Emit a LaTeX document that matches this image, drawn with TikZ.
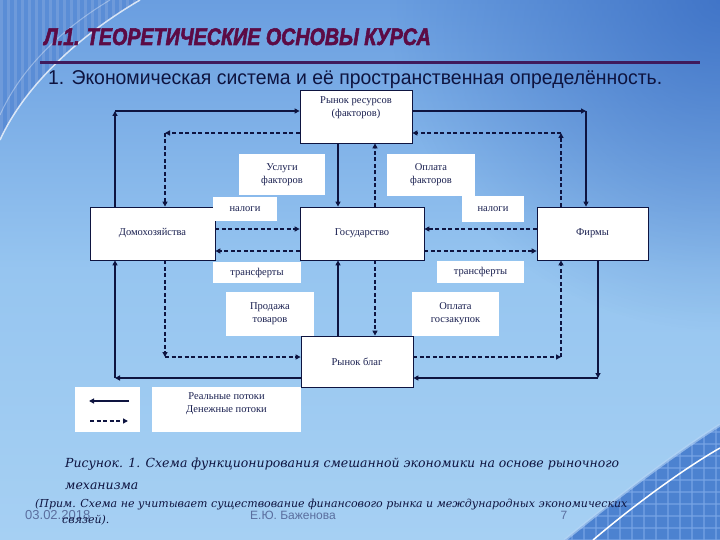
\documentclass[tikz,border=0pt]{standalone}
\usepackage{fontspec}
\usetikzlibrary{arrows.meta,fadings,calc}
\setmainfont{Liberation Serif}
\newfontfamily\titlefont[FakeStretch=0.82, FakeBold=2.2]{Liberation Sans}
\newfontfamily\subfont[FakeStretch=0.97]{Liberation Sans}
\newfontfamily\capfont{DejaVu Serif}
\newfontfamily\footfont{Liberation Sans}
\definecolor{navy}{HTML}{0E1440}
\definecolor{txt}{HTML}{1A2050}
\definecolor{maroon}{HTML}{5C0B45}
\definecolor{rule}{HTML}{3F1A5C}
\definecolor{bgtop}{HTML}{6A9EE0}
\definecolor{bgmid}{HTML}{96C5F0}
\definecolor{bgbot}{HTML}{A6D0F3}
\definecolor{deep}{HTML}{3468C0}
\definecolor{foot}{HTML}{5A6E9E}
\definecolor{stripe}{HTML}{5A8DD6}
\definecolor{gridbg}{HTML}{4C82D0}
\definecolor{gridln}{HTML}{79A6E6}
\definecolor{band}{HTML}{B8D6F6}
\tikzfading[name=cornerfade, inner color=transparent!25, outer color=transparent!100]
\tikzset{
  dfont/.style={font=\fontsize{10.5}{13}\selectfont},
  mainbox/.style={draw=navy, line width=0.8pt, fill=white, inner sep=0pt, align=center, text=txt, dfont},
  lblbox/.style={fill=white, inner sep=0pt, align=center, text=txt, dfont},
  txtnode/.style={inner sep=0pt, align=center, text=txt, dfont},
  sol/.style={draw=navy, line width=1.2pt, -{Triangle[length=5pt,width=5pt]}},
  dsh/.style={draw=navy, line width=1.7pt, dash pattern=on 4pt off 2.5pt, -{Triangle[length=5pt,width=5pt]}},
}
\begin{document}
\begin{tikzpicture}[x=1pt,y=-1pt]
\useasboundingbox (0,0) rectangle (720,540);
% background
\shade[top color=bgtop, bottom color=bgbot, middle color=bgmid] (0,0) rectangle (720,540);
\fill[deep, path fading=cornerfade] (720,0) circle (330);
% left top decoration
\begin{scope}
\clip (0,0) -- (140,0) .. controls (80,35) and (25,85) .. (0,140) -- cycle;
\fill[stripe] (0,0) rectangle (140,140);
\foreach \i in {0,7,...,140} {\fill[white, opacity=0.12] (\i,0) rectangle (\i+3,140);}
\end{scope}
\draw[white, opacity=0.75, line width=1.5pt] (140,0) .. controls (80,35) and (25,85) .. (0,140);
\draw[white, opacity=0.35, line width=1pt] (110,0) .. controls (60,30) and (20,70) .. (0,115);
% bottom right decoration
\begin{scope}
\clip (720,425) .. controls (680,450) and (620,495) .. (565,540) -- (720,540) -- cycle;
\fill[gridbg] (560,420) rectangle (720,540);
\foreach \i in {560,572,...,720} {\draw[gridln, line width=1.2pt, opacity=0.6] (\i,420) -- (\i,540);}
\foreach \j in {420,432,...,540} {\draw[gridln, line width=1.2pt, opacity=0.6] (560,\j) -- (720,\j);}
\end{scope}
\draw[band, line width=3pt, opacity=0.6] (720,425) .. controls (680,450) and (620,495) .. (565,540);
\draw[white, line width=1.5pt] (720,448) .. controls (690,465) and (640,500) .. (593,540);

% title
\node[anchor=base west, inner sep=0pt, text=maroon, font=\titlefont\bfseries\itshape\fontsize{24}{26}\selectfont] (title) at (44,45) {Л.1. ТЕОРЕТИЧЕСКИЕ ОСНОВЫ КУРСА};
\draw[rule, line width=2.2pt] (40,62.5) -- (700,62.5);
\node[anchor=base west, inner sep=0pt, text=navy, font=\subfont\fontsize{20}{22}\selectfont] (sub) at (48,85) {1. Экономическая система и её пространственная определённость.};

% main boxes
\node[mainbox, minimum width=112pt, minimum height=53pt] (rr) at (356,116.5) {};
\node[txtnode] (rrt) at (356,107.5) {Рынок ресурсов\\(факторов)};
\node[mainbox, minimum width=125pt, minimum height=53pt] (hh) at (152.5,233.5) {Домохозяйства};
\node[mainbox, minimum width=124pt, minimum height=53pt] (go) at (362,233.5) {Государство};
\node[mainbox, minimum width=111pt, minimum height=53pt] (fi) at (592.5,233.5) {Фирмы};
\node[mainbox, minimum width=112pt, minimum height=51pt] (rb) at (357,361.5) {Рынок благ};

% label boxes
\node[lblbox, minimum width=86pt, minimum height=41pt] (usl) at (282,174.5) {Услуги\\факторов};
\node[lblbox, minimum width=88pt, minimum height=42pt] (opf) at (431,175) {Оплата\\факторов};
\node[lblbox, minimum width=64pt, minimum height=24pt] (nal1) at (245,209) {налоги};
\node[lblbox, minimum width=62pt, minimum height=26pt] (nal2) at (493,209) {налоги};
\node[lblbox, minimum width=88pt, minimum height=21pt] (tr1) at (257,272.5) {трансферты};
\node[lblbox, minimum width=87pt, minimum height=22pt] (tr2) at (480.5,272) {трансферты};
\node[lblbox, minimum width=88pt, minimum height=44pt] (prod) at (270,314) {Продажа\\товаров};
\node[lblbox, minimum width=87pt, minimum height=44pt] (opg) at (455.5,314) {Оплата\\госзакупок};

% route coordinates
\coordinate (cTLa) at (115,111);
\coordinate (cTLb) at (165,133);
\coordinate (cTRa) at (586,111);
\coordinate (cTRb) at (561,133);
\coordinate (cBLa) at (165,357);
\coordinate (cBLb) at (115,378);
\coordinate (cBRa) at (561,357);
\coordinate (cBRb) at (598,378);
\coordinate (xs) at (338,0);
\coordinate (xd) at (375,0);
\coordinate (ytax) at (0,229);
\coordinate (ytr) at (0,251);

% top loop
\draw[sol] (hh.north -| cTLa) -- (cTLa);
\draw[sol] (cTLa) -- (rr.west |- cTLa);
\draw[dsh] (rr.west |- cTLb) -- (cTLb);
\draw[dsh] (cTLb) -- (hh.north -| cTLb);
\draw[sol] (rr.east |- cTRa) -- (cTRa);
\draw[sol] (cTRa) -- (fi.north -| cTRa);
\draw[dsh] (fi.north -| cTRb) -- (cTRb);
\draw[dsh] (cTRb) -- (rr.east |- cTRb);
\draw[sol] (rr.south -| xs) -- (go.north -| xs);
\draw[dsh] (go.north -| xd) -- (rr.south -| xd);
% middle
\draw[dsh] (hh.east |- ytax) -- (go.west |- ytax);
\draw[dsh] (fi.west |- ytax) -- (go.east |- ytax);
\draw[dsh] (go.west |- ytr) -- (hh.east |- ytr);
\draw[dsh] (go.east |- ytr) -- (fi.west |- ytr);
% bottom loop
\draw[dsh] (hh.south -| cBLa) -- (cBLa);
\draw[dsh] (cBLa) -- (rb.west |- cBLa);
\draw[sol] (rb.west |- cBLb) -- (cBLb);
\draw[sol] (cBLb) -- (hh.south -| cBLb);
\draw[sol] (rb.north -| xs) -- (go.south -| xs);
\draw[dsh] (go.south -| xd) -- (rb.north -| xd);
\draw[dsh] (rb.east |- cBRa) -- (cBRa);
\draw[dsh] (cBRa) -- (fi.south -| cBRa);
\draw[sol] (fi.south -| cBRb) -- (cBRb);
\draw[sol] (cBRb) -- (rb.east |- cBRb);

% legend
\node[lblbox, minimum width=65pt, minimum height=45pt] (legl) at (107.5,409.5) {};
\node[lblbox, minimum width=149pt, minimum height=45pt] (legr) at (226.5,409.5) {};
\node[txtnode, anchor=north] (legt) at (226.5,392.5) {Реальные потоки\\Денежные потоки};
\coordinate (la1) at (129,401);
\coordinate (la2) at (89,401);
\coordinate (lb1) at (90,421);
\coordinate (lb2) at (128,421);
\draw[sol] (la1) -- (la2);
\draw[dsh] (lb1) -- (lb2);

% caption
\node[anchor=base west, inner sep=0pt, text=navy, font=\capfont\itshape\fontsize{12.5}{14}\selectfont] (cap1) at (65,467) {Рисунок. 1. Схема функционирования смешанной экономики на основе рыночного};
\node[anchor=base west, inner sep=0pt, text=navy, font=\capfont\itshape\fontsize{12.5}{14}\selectfont] (cap2) at (65,489) {механизма};
\node[anchor=base west, inner sep=0pt, text=foot, font=\footfont\fontsize{13}{14}\selectfont] (date) at (25,519) {03.02.2018};
\node[anchor=base, inner sep=0pt, text=foot, font=\footfont\fontsize{12}{14}\selectfont] (auth) at (293,519) {Е.Ю. Баженова};
\node[anchor=base, inner sep=0pt, text=foot, font=\footfont\fontsize{12}{14}\selectfont] (pg) at (564,519) {7};
\node[anchor=base west, inner sep=0pt, text=navy, font=\capfont\itshape\fontsize{11}{13}\selectfont] (cap3) at (35,507) {(Прим. Схема не учитывает существование финансового рынка и международных экономических};
\node[anchor=base west, inner sep=0pt, text=navy, font=\capfont\itshape\fontsize{11}{13}\selectfont] (cap4) at (62,523) {связей).};
\end{tikzpicture}
\end{document}
